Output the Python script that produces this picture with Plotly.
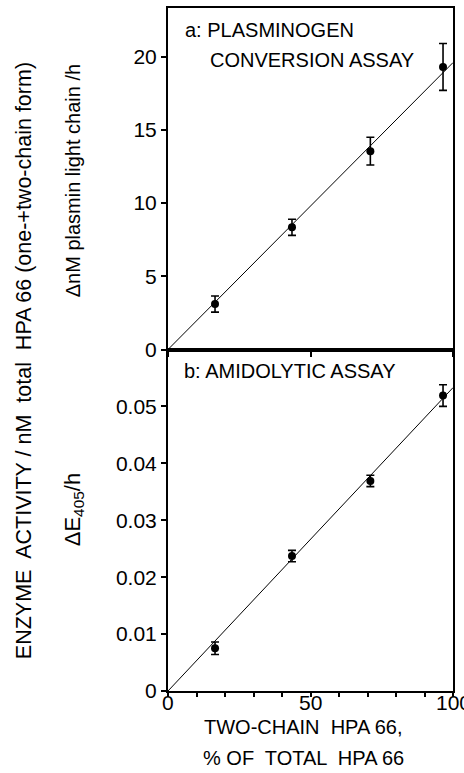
import plotly.graph_objects as go

# ---- data ----
two_chain_pct = [16.5, 43.5, 71.0, 96.5]

plasmin_rate = [3.1, 8.35, 13.55, 19.3]
plasmin_err = [0.55, 0.55, 0.95, 1.6]

amidolytic_rate = [0.0075, 0.0237, 0.0369, 0.0519]
amidolytic_err = [0.0011, 0.0010, 0.0010, 0.0019]

fit_x = [0, 100]
fit_plasmin = [0, 19.6]
fit_amidolytic = [0, 0.0533]

x_tickvals = [0, 50, 100]
x_ticktext = ["0", "50", "100"]
ya_tickvals = [0, 5, 10, 15, 20]
yb_tickvals = [0, 0.01, 0.02, 0.03, 0.04, 0.05]
yb_ticktext = ["0", "0.01", "0.02", "0.03", "0.04", "0.05"]

FONT = "Liberation Sans"
BLACK = "#000000"
TICK_SIZE = 21
LABEL_SIZE = 20

fig = go.Figure()

# top panel: fit line + points
fig.add_trace(go.Scatter(x=fit_x, y=fit_plasmin, mode="lines",
                         line=dict(color=BLACK, width=1), xaxis="x", yaxis="y",
                         showlegend=False, hoverinfo="skip"))
fig.add_trace(go.Scatter(x=two_chain_pct, y=plasmin_rate, mode="markers",
                         marker=dict(color=BLACK, size=8, symbol="circle"),
                         error_y=dict(type="data", array=plasmin_err, color=BLACK,
                                      thickness=1.6, width=4),
                         xaxis="x", yaxis="y", showlegend=False))

# bottom panel
fig.add_trace(go.Scatter(x=fit_x, y=fit_amidolytic, mode="lines",
                         line=dict(color=BLACK, width=1), xaxis="x2", yaxis="y2",
                         showlegend=False, hoverinfo="skip"))
fig.add_trace(go.Scatter(x=two_chain_pct, y=amidolytic_rate, mode="markers",
                         marker=dict(color=BLACK, size=8, symbol="circle"),
                         error_y=dict(type="data", array=amidolytic_err, color=BLACK,
                                      thickness=1.6, width=4),
                         xaxis="x2", yaxis="y2", showlegend=False))

axis_common = dict(showline=True, linecolor=BLACK, linewidth=2, mirror=True,
                   showgrid=False, zeroline=False, ticks="outside",
                   tickcolor=BLACK, tickwidth=1.5, ticklabeloverflow="allow",
                   tickfont=dict(family=FONT, size=TICK_SIZE, color=BLACK))

fig.update_layout(
    width=464, height=773,
    margin=dict(l=168, r=11, t=6, b=82),
    paper_bgcolor="white", plot_bgcolor="white",
    font=dict(family=FONT, color=BLACK),
    xaxis=dict(axis_common, domain=[0, 1], range=[0, 100], anchor="y",
               tickvals=x_tickvals, showticklabels=False, ticklen=5),
    yaxis=dict(axis_common, domain=[0.5, 1], range=[0, 23.33], anchor="x",
               tickvals=ya_tickvals, ticklen=5),
    xaxis2=dict(axis_common, domain=[0, 1], range=[0, 100], anchor="y2",
                tickvals=x_tickvals, ticklen=4, showticklabels=False,
                minor=dict(dtick=10, ticks="outside", ticklen=4,
                           tickcolor=BLACK, tickwidth=1.5, showgrid=False)),
    yaxis2=dict(axis_common, domain=[0, 0.5], range=[0, 0.06], anchor="x2",
                tickvals=yb_tickvals, ticktext=yb_ticktext, ticklen=5),
)

ann = []
def add(text, x, y, size, angle=0, xanchor="center", yanchor="middle", xref="paper"):
    ann.append(dict(text=text, x=x, y=y, xref=xref, yref="paper",
                    showarrow=False, textangle=angle, xanchor=xanchor,
                    yanchor=yanchor, font=dict(family=FONT, size=size, color=BLACK)))

# bottom x tick labels (placed on the x2 data scale)
for v, t in zip(x_tickvals, x_ticktext):
    add(t, v, -0.0175, TICK_SIZE, xref="x2")

# panel labels
add("a: PLASMINOGEN", 0.053, 0.968, LABEL_SIZE, xanchor="left")
add("CONVERSION ASSAY", 0.14, 0.924, LABEL_SIZE, xanchor="left")
add("b: AMIDOLYTIC ASSAY", 0.049, 0.469, LABEL_SIZE, xanchor="left")

# y titles
add("ΔnM plasmin light chain /h", -0.335, 0.747, LABEL_SIZE, angle=-90)
add("ΔE<sub>405</sub>/h", -0.33, 0.266, 22, angle=-90)
add("ENZYME  ACTIVITY / nM  total  HPA 66 (one-+two-chain form)", -0.505, 0.483, 21.5, angle=-90)

# x title
add("TWO-CHAIN  HPA 66,", 0.474, -0.052, LABEL_SIZE)
add("% OF  TOTAL  HPA 66", 0.474, -0.0978, LABEL_SIZE)

fig.update_layout(annotations=ann)

fig.write_html("out.html", config={"displayModeBar": False},
               post_script="document.body.style.margin='0';")
